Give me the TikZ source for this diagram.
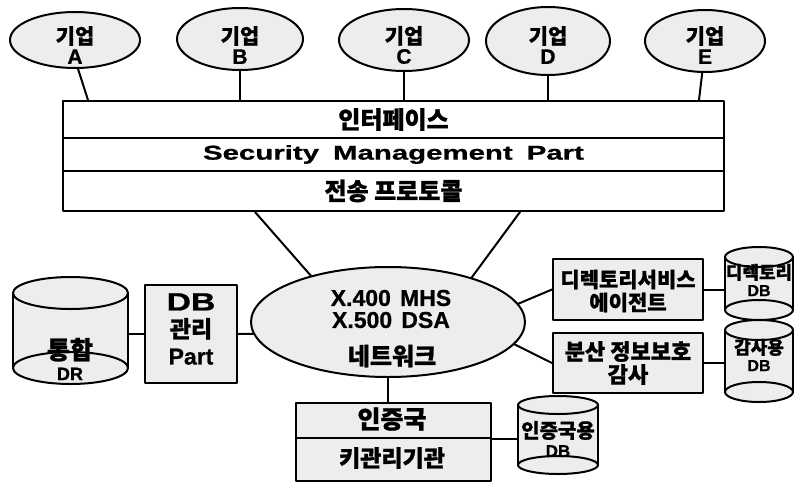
\documentclass[tikz,border=0pt]{standalone}
\usepackage{fontspec}
\setmainfont{Liberation Sans}[BoldFeatures={FakeBold=0.8}]
\newfontfamily\kr{Noto Sans CJK KR}[BoldFeatures={FakeBold=1}]
\newfontfamily\widefont{Liberation Sans}[FakeStretch=1.47, BoldFeatures={FakeBold=0.8}]
\newfontfamily\dbfont{Liberation Sans}[FakeStretch=1.35, BoldFeatures={FakeBold=1}]
\usetikzlibrary{calc,shapes.geometric}
\definecolor{stip}{gray}{0.93}
\tikzset{
  ln/.style={line width=2pt, line cap=round, line join=round},
  comp/.style={ellipse, draw, ln, fill=stip, inner sep=0pt},
  box/.style={rectangle, draw, ln, fill=stip, inner sep=0pt},
  rowbox/.style={rectangle, draw, ln, fill=white, inner sep=0pt, minimum width=661pt},
  lbl/.style={inner sep=0pt, align=center, font=\bfseries},
  anchorbox/.style={rectangle, draw=none, inner sep=0pt},
}
\newcommand{\cylshape}[6]{% name, x1, x2, ytop, ybot, ry
  \node[anchorbox, minimum width={#3-#2}, minimum height={#5-#4}] (#1) at ({(#2+#3)/2},{(#4+#5)/2}) {};
  \fill[stip] (#2,#4) rectangle (#3,#5);
  \draw[ln] (#2,#4) -- (#2,#5) (#3,#4) -- (#3,#5);
  \filldraw[ln, fill=stip] ({(#2+#3)/2},#5) circle[x radius={(#3-#2)/2*1pt}, y radius=#6pt];
  \filldraw[ln, fill=stip] ({(#2+#3)/2},#4) circle[x radius={(#3-#2)/2*1pt}, y radius=#6pt];
}
\begin{document}
\begin{tikzpicture}[x=1pt, y=-1pt]
\useasboundingbox (0,0) rectangle (795,482);

% enterprise ellipses
\node[comp, minimum width=130pt, minimum height=56pt] (A) at (75,40) {};
\node[comp, minimum width=126pt, minimum height=62pt] (B) at (240,39) {};
\node[comp, minimum width=130pt, minimum height=62pt] (C) at (404,40) {};
\node[comp, minimum width=124pt, minimum height=68pt] (D) at (548,41) {};
\node[comp, minimum width=120pt, minimum height=62pt] (E) at (705,41) {};
\tikzset{entl/.style={lbl, font=\bfseries\fontsize{21}{20}\selectfont}}
\node[entl] (At) at (75,45) {{\kr 기업}\\A};
\node[entl] (Bt) at (240,45) {{\kr 기업}\\B};
\node[entl] (Ct) at (404,45) {{\kr 기업}\\C};
\node[entl] (Dt) at (548,45) {{\kr 기업}\\D};
\node[entl] (Et) at (705,45) {{\kr 기업}\\E};

% layered rectangle
\node[rowbox, minimum height=37pt, anchor=north west] (row1) at (62,100) {};
\node[rowbox, minimum height=33pt, anchor=north west] (row2) at (62,137) {};
\node[rowbox, minimum height=40pt, anchor=north west] (row3) at (62,170) {};
\node[lbl, font=\bfseries\kr\fontsize{24}{24}\selectfont] (r1t) at (row1) {인터페이스};
\node[lbl, font=\bfseries\widefont\fontsize{20}{22}\selectfont] (r2t) at (row2) {Security\hspace{0.7em}Management\hspace{0.7em}Part};
\node[lbl, font=\bfseries\kr\fontsize{24}{24}\selectfont] (r3t) at (row3) {전송 프로토콜};

\draw[ln] (A.-84) -- ([xshift=26pt]row1.north west);
\draw[ln] (B.south) -- (B.south |- row1.north);
\draw[ln] (C.south) -- (C.south |- row1.north);
\draw[ln] (D.south) -- (D.south |- row1.north);
\draw[ln] (E.-95) -- ([xshift=-26pt]row1.north east);

% central network ellipse
\node[comp, minimum width=274pt, minimum height=110pt] (net) at (388,322) {};
\node[lbl, font=\bfseries\fontsize{23}{22}\selectfont] (nett) at (391,309) {X.400\hspace{0.4em}MHS\\X.500\hspace{0.4em}DSA};
\node[lbl, font=\bfseries\kr\fontsize{24}{24}\selectfont] (nett2) at (392,356) {네트워크};
\draw[ln] ([xshift=193pt]row3.south west) -- (net.149);
\draw[ln] ([xshift=458pt]row3.south west) -- (net.28);

% DB management part
\node[box, minimum width=92pt, minimum height=98pt] (dbm) at (191,334) {};
\node[lbl, font=\bfseries\fontsize{23}{27}\selectfont] (dbmt) at (191,329) {{\dbfont\fontsize{25}{27}\selectfont DB}\\{\kr 관리}\\Part};
\draw[ln] (dbm.east) -- (net.185);

% integrated DR cylinder
\cylshape{dr}{13}{128}{293}{368}{16}
\node[lbl, font=\bfseries\fontsize{18}{21}\selectfont] (drt) at (70,359) {{\kr\fontsize{25}{21}\selectfont 통합}\\DR};
\draw[ln] (dbm.west) -- (dbm.west -| dr.east);

% directory service agent and audit
\node[box, minimum width=150pt, minimum height=61pt] (dsa) at (628,289.5) {};
\node[lbl, font=\bfseries\kr\fontsize{21}{23}\selectfont] (dsat) at (628,291) {디렉토리서비스\\에이전트};
\node[box, minimum width=150pt, minimum height=60pt] (aud) at (628,363) {};
\node[lbl, font=\bfseries\kr\fontsize{22}{23}\selectfont] (audt) at (628,363) {분산 정보보호\\감사};
\draw[ln] (net.8) -- (dsa.west);
\draw[ln] (net.-10) -- (aud.west);

\cylshape{dirdb}{725}{793}{257}{310}{10}
\node[lbl, font=\bfseries\fontsize{16}{17}\selectfont] (dirdbt) at (759,280) {{\kr\fontsize{18}{17}\selectfont 디렉토리}\\DB};
\draw[ln] (dsa.east) -- (dsa.east -| dirdb.west);

\cylshape{auddb}{725}{793}{330}{392}{10}
\node[lbl, font=\bfseries\fontsize{16}{17}\selectfont] (auddbt) at (759,355) {{\kr\fontsize{18}{17}\selectfont 감사용}\\DB};
\draw[ln] (aud.east) -- (aud.east -| auddb.west);

% certification authority
\node[box, minimum width=195pt, minimum height=35pt, anchor=north west] (ca1) at (295,402) {};
\node[box, minimum width=195pt, minimum height=43pt, anchor=north west] (ca2) at (295,437) {};
\node[lbl, font=\bfseries\kr\fontsize{25}{25}\selectfont] (ca1t) at (392,419) {인증국};
\node[lbl, font=\bfseries\kr\fontsize{23}{23}\selectfont] (ca2t) at (392,458) {키관리기관};
\draw[ln] (net.south) -- (net.south |- ca1.north);

\cylshape{cadb}{518}{598}{405}{465}{9}
\node[lbl, font=\bfseries\fontsize{17}{19}\selectfont] (cadbt) at (558,439) {{\kr\fontsize{20}{19}\selectfont 인증국용}\\DB};
\draw[ln] (ca1.south east) -- (ca1.south east -| cadb.west);
\end{tikzpicture}
\end{document}
